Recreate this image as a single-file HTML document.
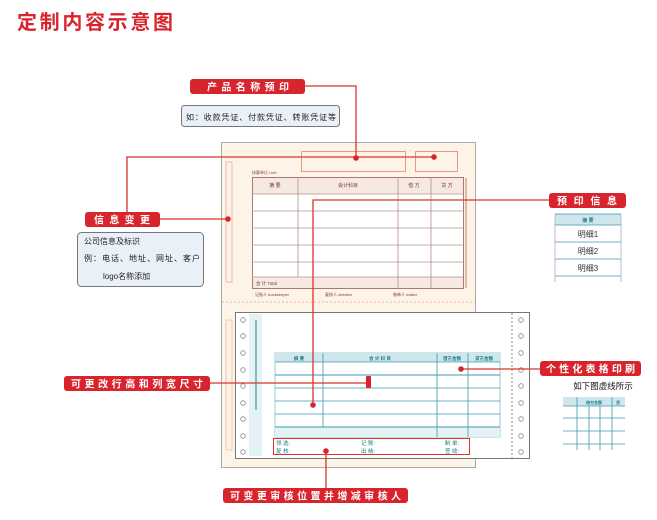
<!DOCTYPE html>
<html><head><meta charset="utf-8"><style>
body{margin:0;width:657px;height:520px;background:#fff;overflow:hidden;font-family:"Liberation Sans","Noto Sans CJK SC",sans-serif;}
svg{position:absolute;left:0;top:0}
text{font-family:"Liberation Sans","Noto Sans CJK SC",sans-serif}
</style></head><body>
<svg width="657" height="520" viewBox="0 0 657 520">
<text x="17" y="29" font-size="20" font-weight="bold" fill="#d8242c" textLength="156" lengthAdjust="spacing">定制内容示意图</text>

<!-- beige back form -->
<rect x="221.5" y="142.5" width="254" height="325" fill="#fdf3e6" stroke="#aaa"/>
<line x1="222" y1="302" x2="475" y2="302" stroke="#e8b9a0" stroke-dasharray="2,2"/>
<rect x="226" y="162" width="6" height="120" fill="none" stroke="#f0b8a8"/>
<rect x="226" y="320" width="6" height="130" fill="none" stroke="#f0c8b8"/>
<rect x="301.5" y="151.5" width="104" height="20" fill="none" stroke="#e89a80"/>
<rect x="415.5" y="151.5" width="42" height="20" fill="none" stroke="#e89a80"/>
<text x="252" y="174" font-size="4" fill="#8a4a3a">核算单位 Unit</text>
<rect x="252.5" y="177.5" width="211" height="111" fill="#fff" stroke="#a87a70"/>
<rect x="253" y="178" width="210" height="16" fill="#f6e8e2"/>
<rect x="253" y="277" width="210" height="11" fill="#f6e8e2"/>
<g stroke="#b89088" stroke-width="0.8">
<line x1="252" y1="194" x2="463" y2="194"/><line x1="252" y1="211" x2="463" y2="211"/><line x1="252" y1="228" x2="463" y2="228"/><line x1="252" y1="245" x2="463" y2="245"/><line x1="252" y1="262" x2="463" y2="262"/><line x1="252" y1="277" x2="463" y2="277"/>
<line x1="298" y1="177" x2="298" y2="277"/><line x1="398" y1="177" x2="398" y2="288"/><line x1="431" y1="177" x2="431" y2="288"/>
</g>
<g font-size="5" fill="#7a3a2a" text-anchor="middle"><text x="275" y="187">摘 要</text><text x="348" y="187">会计科目</text><text x="414" y="187">借 方</text><text x="447" y="187">贷 方</text></g>
<text x="256" y="285" font-size="4.5" fill="#7a3a2a">合 计 Total</text>
<g font-size="4" fill="#7a3a2a"><text x="255" y="296">记账人 bookkeeper</text><text x="325" y="296">复核人 checker</text><text x="393" y="296">制单人 maker</text></g>
<rect x="465" y="178" width="2" height="110" fill="#c89080" opacity="0.6"/>

<!-- white front form -->
<rect x="235.5" y="312.5" width="294" height="146" fill="#fff" stroke="#777"/>
<line x1="512" y1="313" x2="512" y2="458" stroke="#888" stroke-dasharray="2,2"/>
<rect x="249" y="314" width="13" height="142" fill="#e4f2f4"/>
<rect x="255" y="320" width="2" height="90" fill="#3a9aa8" opacity="0.6"/>
<g fill="none" stroke="#888" stroke-width="0.8">
<circle cx="243" cy="320" r="2.3"/><circle cx="243" cy="336" r="2.3"/><circle cx="243" cy="353" r="2.3"/><circle cx="243" cy="370" r="2.3"/><circle cx="243" cy="386" r="2.3"/><circle cx="243" cy="403" r="2.3"/><circle cx="243" cy="419" r="2.3"/><circle cx="243" cy="436" r="2.3"/><circle cx="243" cy="452" r="2.3"/>
<circle cx="521" cy="320" r="2.3"/><circle cx="521" cy="336" r="2.3"/><circle cx="521" cy="353" r="2.3"/><circle cx="521" cy="370" r="2.3"/><circle cx="521" cy="386" r="2.3"/><circle cx="521" cy="403" r="2.3"/><circle cx="521" cy="419" r="2.3"/><circle cx="521" cy="436" r="2.3"/><circle cx="521" cy="452" r="2.3"/>
</g>
<rect x="275" y="353" width="225" height="84" fill="#fff" stroke="#7cc0c8" stroke-width="0.8"/>
<rect x="275" y="353" width="225" height="9" fill="#cfe7ec"/>
<rect x="275" y="427" width="225" height="10" fill="#e4f2f4"/>
<g stroke="#3a9aa8" stroke-width="0.8">
<line x1="275" y1="362" x2="500" y2="362"/><line x1="275" y1="375" x2="500" y2="375" stroke-width="1.1"/><line x1="275" y1="388" x2="500" y2="388"/><line x1="275" y1="401" x2="500" y2="401"/><line x1="275" y1="414" x2="500" y2="414"/><line x1="275" y1="427" x2="500" y2="427" stroke-width="1.1"/>
<line x1="323" y1="353" x2="323" y2="427"/><line x1="437" y1="353" x2="437" y2="437"/><line x1="468" y1="353" x2="468" y2="437"/>
</g>
<g font-size="4.5" fill="#1a7a88" text-anchor="middle" font-weight="bold"><text x="299" y="360">摘  要</text><text x="380" y="360">会  计  科  目</text><text x="452" y="360">借方金额</text><text x="484" y="360">贷方金额</text></g>
<rect x="273.5" y="438.5" width="196" height="16" fill="none" stroke="#d8342c"/>
<g font-size="5.5" fill="#1a7a88"><text x="276" y="445">领  选:</text><text x="276" y="453">复  核:</text><text x="361" y="445">记  账:</text><text x="361" y="453">出  纳:</text><text x="445" y="445">制  单:</text><text x="445" y="453">签  收:</text></g>

<!-- connectors -->
<g stroke="#d8342c" stroke-width="1.3" fill="none">
<polyline points="305,86 356,86 356,158"/>
<polyline points="434,157 127,157 127,213"/>
<line x1="160" y1="219" x2="228" y2="219"/>
<polyline points="549,200 313,200 313,405"/>
<line x1="210" y1="383" x2="368" y2="383"/>
<line x1="461" y1="369" x2="540" y2="369"/>
<line x1="326" y1="451" x2="326" y2="488"/>
</g>
<g fill="#d8242c"><circle cx="356" cy="158" r="2.8"/><circle cx="434" cy="157" r="2.8"/><circle cx="228" cy="219" r="2.8"/><circle cx="313" cy="405" r="2.8"/><circle cx="461" cy="369" r="2.8"/><circle cx="326" cy="451" r="2.8"/><rect x="366" y="376" width="5" height="12" rx="1"/></g>

<!-- labels -->
<g fill="#d8242c"><rect x="190" y="79" width="115" height="15" rx="3"/><rect x="85" y="212" width="75" height="15" rx="3"/><rect x="549" y="193" width="77" height="15" rx="3"/><rect x="540" y="361" width="101" height="15" rx="3"/><rect x="64" y="376" width="146" height="15" rx="3"/><rect x="223" y="488" width="185" height="15" rx="3"/></g>
<g fill="#fff" font-size="10" font-weight="bold">
<text x="207" y="90.5" textLength="82" lengthAdjust="spacing">产品名称预印</text>
<text x="94" y="223.5" textLength="56" lengthAdjust="spacing">信息变更</text>
<text x="557" y="204.5" textLength="60" lengthAdjust="spacing">预印信息</text>
<text x="546" y="372.5" textLength="89" lengthAdjust="spacing">个性化表格印刷</text>
<text x="71" y="387.5" textLength="132" lengthAdjust="spacing">可更改行高和列宽尺寸</text>
<text x="230" y="499.5" textLength="171" lengthAdjust="spacing">可变更审核位置并增减审核人</text>
</g>

<rect x="181.5" y="105.5" width="158" height="21" rx="3" fill="#eaf0f8" stroke="#777"/>
<text x="186" y="120" font-size="8" fill="#222" textLength="150" lengthAdjust="spacing">如：收款凭证、付款凭证、转账凭证等</text>
<rect x="77.5" y="232.5" width="126" height="54" rx="4" fill="#eaf0f8" stroke="#777"/>
<g font-size="8" fill="#222"><text x="84" y="244">公司信息及标识</text><text x="84" y="261" textLength="116" lengthAdjust="spacing">例：电话、地址、网址、客户</text><text x="103" y="279">logo名称添加</text></g>

<!-- right mini table -->
<rect x="555" y="214" width="66" height="11" fill="#cfe7ec"/>
<g stroke="#3a9aa8" stroke-width="0.8"><line x1="555" y1="214" x2="621" y2="214"/><line x1="555" y1="225" x2="621" y2="225"/><line x1="555" y1="242" x2="621" y2="242"/><line x1="555" y1="259" x2="621" y2="259"/><line x1="555" y1="276" x2="621" y2="276"/>
<line x1="555" y1="214" x2="555" y2="282" stroke="#aac"/><line x1="621" y1="214" x2="621" y2="282" stroke="#aac"/></g>
<text x="588" y="222" font-size="5" fill="#1a7a88" text-anchor="middle" font-weight="bold">摘  要</text>
<g font-size="8" fill="#333" text-anchor="middle"><text x="588" y="237">明细1</text><text x="588" y="254">明细2</text><text x="588" y="271">明细3</text></g>

<text x="603" y="389" font-size="8.5" fill="#111" text-anchor="middle">如下图虚线所示</text>
<rect x="563" y="397" width="62" height="9" fill="#cfe7ec"/>
<g stroke="#3a9aa8" stroke-width="0.8"><line x1="563" y1="406" x2="625" y2="406"/><line x1="563" y1="418" x2="625" y2="418"/><line x1="563" y1="431" x2="625" y2="431"/><line x1="563" y1="444" x2="625" y2="444"/>
<line x1="577" y1="397" x2="577" y2="450"/><line x1="589" y1="406" x2="589" y2="450"/><line x1="600" y1="406" x2="600" y2="450"/><line x1="612" y1="397" x2="612" y2="450"/></g>
<text x="594" y="404" font-size="4" fill="#1a7a88" text-anchor="middle" font-weight="bold">借方金额</text>
<text x="618" y="404" font-size="4" fill="#1a7a88" text-anchor="middle" font-weight="bold">贷</text>
</svg>
</body></html>
